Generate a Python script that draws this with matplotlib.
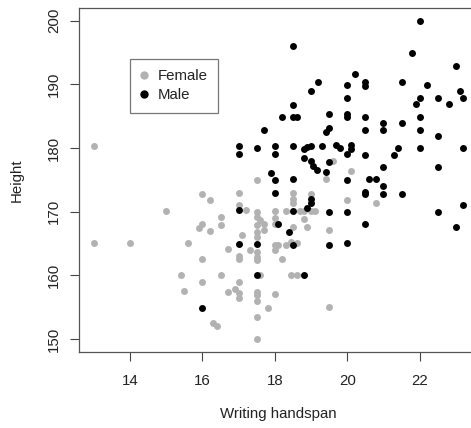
import matplotlib
matplotlib.use("Agg")
import matplotlib.pyplot as plt
from matplotlib.lines import Line2D

plt.rcParams['font.family'] = ['Liberation Sans', 'DejaVu Sans']

female_span = [13.0, 13.0, 14.0, 15.0, 15.6, 15.4, 15.5, 15.9, 16.0,
               16.0, 16.0, 16.0, 16.2, 16.2, 16.3, 16.4, 16.5, 16.5, 16.5,
               16.7, 16.7, 16.9,
               17.0, 17.0, 17.0, 17.0, 17.0, 17.0, 17.0, 17.1, 17.2, 17.3,
               17.5, 17.5, 17.5, 17.5, 17.5, 17.5, 17.5, 17.5, 17.5, 17.5,
               17.5, 17.5, 17.5, 17.5,
               17.6, 17.6, 17.7, 17.7, 17.8,
               18.0, 18.0, 18.0, 18.0, 18.0, 18.0, 18.1, 18.2, 18.3, 18.3,
               18.5, 18.5, 18.5, 18.5, 18.45, 18.45, 18.6, 18.6,
               18.7, 18.8, 18.8, 18.9, 19.0, 19.0, 19.1,
               19.4, 19.5, 19.5, 19.6, 20.0, 20.1, 20.8]
female_height = [180.3, 165.0, 165.0, 170.1, 165.0, 160.0, 157.5, 167.5, 168.0,
                 172.7, 162.5, 159.0, 171.9, 167.0, 152.5, 152.0, 169.1, 167.9, 160.0,
                 164.1, 157.4, 157.9,
                 173.0, 171.0, 163.1, 162.5, 159.0, 157.2, 156.4, 166.3, 170.2, 164.0,
                 174.9, 170.0, 169.2, 167.9, 166.8, 166.0, 163.7, 162.9, 162.4, 157.4,
                 156.9, 156.0, 153.5, 150.0,
                 168.7, 160.0, 168.1, 167.1, 154.9,
                 170.1, 169.0, 168.0, 164.8, 164.0, 157.0, 164.8, 162.6, 170.1, 164.8,
                 173.0, 172.0, 171.3, 167.6, 165.2, 160.0, 160.0, 165.0,
                 170.1, 170.1, 168.9, 167.6, 172.8, 170.1, 170.1,
                 175.2, 167.1, 155.0, 178.0, 171.9, 176.4, 171.4]

male_span = [16.0,
             17.0, 17.0, 17.0, 17.0, 17.5, 17.5, 17.5, 17.7,
             17.9, 18.0, 18.0, 18.0, 18.0, 18.1, 18.2, 18.4,
             18.5, 18.5, 18.5, 18.6, 18.5, 18.5, 18.5, 18.5,
             18.8, 18.8, 18.8, 18.9, 18.9,
             19.0, 19.0, 19.0, 19.0, 19.0, 19.06, 19.17, 19.2, 19.3,
             19.4, 19.5, 19.4, 19.5, 19.5, 19.5, 19.5, 19.7, 19.8,
             20.0, 20.0, 20.0, 20.0, 20.0, 20.0, 20.0, 20.0, 20.1, 20.1, 20.2,
             20.5, 20.5, 20.5, 20.5, 20.5, 20.5, 20.5, 20.5, 20.6, 20.8,
             21.0, 21.0, 21.0, 21.0, 21.0, 21.3, 21.4, 21.5, 21.5, 21.5,
             21.8, 21.9, 22.0, 22.0, 22.0, 22.0, 22.0, 22.2,
             22.5, 22.5, 22.5, 22.5, 22.8, 23.0, 23.0, 23.1, 23.2, 23.2, 23.2]
male_height = [154.9,
               180.3, 179.0, 170.2, 164.9, 180.0, 164.9, 160.0, 182.9,
               176.1, 174.9, 173.0, 180.3, 179.0, 168.0, 184.9, 166.8,
               196.0, 186.8, 184.9, 184.9, 180.3, 175.2, 170.1, 164.8,
               179.9, 178.5, 160.0, 180.2, 170.5,
               188.9, 180.3, 177.9, 172.0, 171.3, 177.1, 176.5, 190.4, 180.3,
               182.5, 183.1, 176.2, 185.3, 177.8, 170.0, 164.8, 180.4, 180.0,
               189.9, 187.9, 185.4, 184.8, 179.0, 174.9, 170.0, 165.0, 180.4, 179.9, 191.7,
               190.4, 189.8, 184.9, 182.9, 178.9, 173.1, 172.7, 168.0, 175.2, 175.2,
               184.0, 182.9, 177.0, 174.0, 172.7, 178.9, 180.0, 190.4, 183.9, 172.7,
               194.9, 186.9, 200.0, 187.9, 184.9, 182.9, 180.0, 189.9,
               187.9, 181.9, 177.0, 169.9, 186.9, 192.9, 167.6, 188.9, 187.9, 180.0, 171.0]

x_ticks = [14, 16, 18, 20, 22]
y_ticks = [150, 160, 170, 180, 190, 200]
legend_labels = ["Female", "Male"]

GREY = "#b2b2b2"
FS = 10.8
fig = plt.figure(figsize=(4.71, 4.28), dpi=100)
ax = fig.add_axes([79/471, 76.3/428, 399/471, 343.7/428])

ax.scatter(female_span, female_height, s=25, c=GREY, linewidths=0, zorder=2)
ax.scatter(male_span, male_height, s=25, c="black", linewidths=0, zorder=3)

ax.set_xlim(12.59, 23.61)
ax.set_ylim(148, 202)
ax.set_xticks(x_ticks)
ax.set_yticks(y_ticks)
ax.set_yticklabels([str(v) for v in y_ticks], rotation=90, va='center')
ax.tick_params(axis='both', direction='out', length=6.5, width=0.8,
               color='#444444', labelsize=FS, labelcolor='#222222')
ax.tick_params(axis='x', pad=9.5)
ax.tick_params(axis='y', pad=6.5)
for sp in ax.spines.values():
    sp.set_color('#555555')
    sp.set_linewidth(0.9)

ax.set_xlabel("Writing handspan", fontsize=FS, color='#222222', labelpad=14)
ax.set_ylabel("Height", fontsize=FS, color='#222222', labelpad=17)

handles = [Line2D([], [], marker='o', linestyle='', color=GREY, markersize=5),
           Line2D([], [], marker='o', linestyle='', color='black', markersize=5)]
leg = ax.legend(handles, legend_labels, loc='upper left',
                bbox_to_anchor=((130-79)/399, (351.7-59)/343.7),
                frameon=True, fancybox=False, edgecolor='#555555',
                fontsize=FS, handlelength=0.45, handletextpad=0.7,
                borderpad=0.7, labelspacing=0.3, borderaxespad=0)
leg.get_frame().set_linewidth(0.9)
for t in leg.get_texts():
    t.set_color('#222222')

fig.savefig("out.png", dpi=100)
